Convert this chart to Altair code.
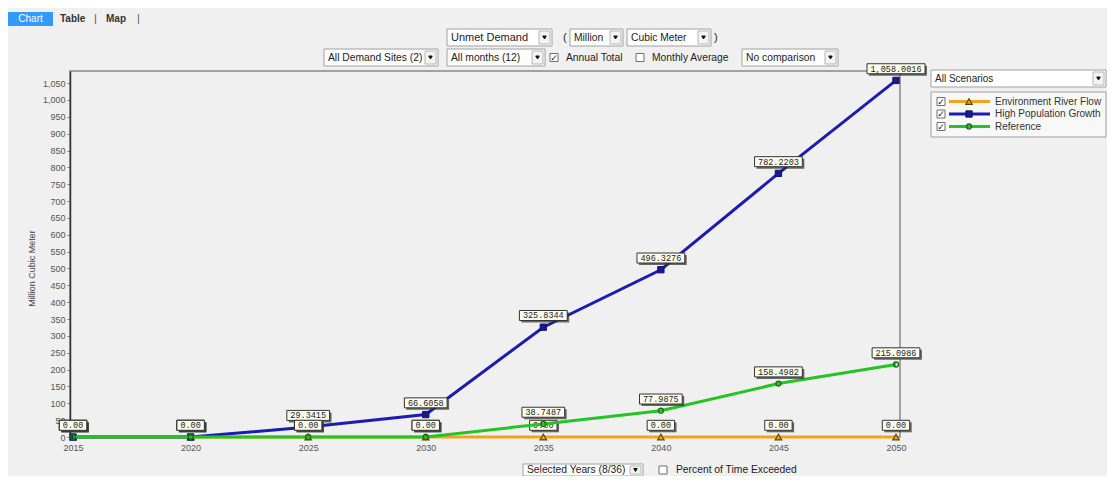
import altair as alt
import pandas as pd

# ---------------- data ----------------
years = [2015, 2020, 2025, 2030, 2035, 2040, 2045, 2050]
series_names = ["Environment River Flow", "High Population Growth", "Reference"]
env_flow = [0.0, 0.0, 0.0, 0.0, 0.0, 0.0, 0.0, 0.0]
high_pop = [0.0, 0.0, 29.3415, 66.6058, 325.8344, 496.3276, 782.2203, 1058.0016]
reference = [0.0, 0.0, 0.0, 0.0, 38.7487, 77.9875, 158.4982, 215.0986]
y_ticks = list(range(0, 1051, 50))

series_values = {
    "Environment River Flow": env_flow,
    "High Population Growth": high_pop,
    "Reference": reference,
}
line_colors = {
    "Environment River Flow": "#f4a21c",
    "High Population Growth": "#1c1cb4",
    "Reference": "#24c424",
}

def series_df(name):
    return pd.DataFrame({"year": years, "value": series_values[name], "series": name})

# ---------------- layout constants ----------------
OX, OY = 70, 71           # page position of plot origin
W, H = 830, 366
XDOM = [2014.87, 2050.17]
YDOM = [0, 1086]
PX_PER_YEAR = W / (XDOM[1] - XDOM[0])

xs = alt.Scale(domain=XDOM, nice=False, zero=False)
ys = alt.Scale(domain=YDOM, nice=False)

XAXIS = alt.Axis(
    values=years, format="d", title=None, labelFontSize=9, labelColor="#555",
    labelFont="Liberation Sans", tickSize=2, tickColor="#777", labelPadding=4,
    domain=False, grid=False)
YAXIS = alt.Axis(
    values=y_ticks, format=",.0f", title="Million Cubic Meter", labelFontSize=9,
    labelColor="#555", labelFont="Liberation Sans", tickSize=3, tickColor="#777",
    labelPadding=2, domainColor="#333", domainWidth=1.5, grid=False,
    titleFontSize=9, titleFont="Liberation Sans", titleColor="#444",
    titleFontWeight="normal", titleX=-39, titleY=197, titleAngle=270,
    titleAlign="center", titleBaseline="middle")

def X(field):
    return alt.X(field, scale=xs, axis=XAXIS, title=None)

def Y(field):
    return alt.Y(field, scale=ys, axis=YAXIS, title="Million Cubic Meter")

one = pd.DataFrame({"k": [0]})

def rect(x1, y1, x2, y2, fill, stroke="#9a9a9a", sw=1.0):
    kw = dict(fill=fill, strokeWidth=sw)
    if stroke:
        kw["stroke"] = stroke
    else:
        kw["strokeOpacity"] = 0
    return alt.Chart(one).mark_rect(**kw).encode(
        x=alt.value(x1 - OX), x2=alt.value(x2 - OX),
        y=alt.value(y1 - OY), y2=alt.value(y2 - OY))

def text(s, x, y, size=10, align="left", color="#222", font="Liberation Sans", weight=400):
    return alt.Chart(one).mark_text(text=s, align=align, baseline="middle", fontSize=size,
                                    font=font, color=color, fontWeight=weight).encode(
        x=alt.value(x - OX), y=alt.value(y - OY))

def point(x, y, shape, size, fill=None, stroke=None, filled=True, sw=1.0):
    kw = dict(shape=shape, size=size, filled=filled, strokeWidth=sw, opacity=1)
    if fill:
        kw["fill"] = fill
    if stroke:
        kw["stroke"] = stroke
    return alt.Chart(one).mark_point(**kw).encode(x=alt.value(x - OX), y=alt.value(y - OY))

def dropdown(x1, x2, y1, y2, label, size=10):
    cy = (y1 + y2) / 2
    return [
        rect(x1, y1, x2, y2, "#ffffff", "#a0a0a0"),
        rect(x2 - 13, y1 + 2, x2 - 2, y2 - 2, "#f3f3f3", "#b5b5b5"),
        point(x2 - 7.5, cy, "triangle-down", 12, fill="#111111", stroke="#111111"),
        text(label, x1 + 4, cy, size=size),
    ]

def checkbox(x, y, checked):
    out = [rect(x - 4, y - 4, x + 4, y + 4, "#ffffff", "#707070")]
    if checked:
        out.append(text("\u2713", x, y, size=9, align="center", font="DejaVu Sans",
                        weight=700, color="#222"))
    return out

# ---------------- plot layers ----------------
layers = []

def label_layers(name):
    d = series_df(name)
    b = alt.Chart(d).transform_calculate(
        lbl="datum.value == 0 ? '0.00' : format(datum.value, ',.4f')"
    ).transform_calculate(
        hw="(length(datum.lbl) * 5.1 + 7) / 2 / %f" % PX_PER_YEAR
    ).transform_calculate(
        x1="datum.year - datum.hw", x2="datum.year + datum.hw"
    )
    shadow = b.mark_rect(fill="#3a3a3a", opacity=0.75, xOffset=2, x2Offset=2,
                         yOffset=-14.7, y2Offset=-4.7).encode(
        x=X("x1:Q"), x2="x2:Q", y=Y("value:Q"), y2="value:Q")
    box = b.mark_rect(fill="#fdfdee", stroke="#333", strokeWidth=1,
                      yOffset=-16.7, y2Offset=-6.7).encode(
        x=X("x1:Q"), x2="x2:Q", y=Y("value:Q"), y2="value:Q")
    txt = b.mark_text(font="Liberation Mono", fontSize=8.5, color="#222", dy=-11.7,
                      baseline="middle", align="center").encode(
        x=X("year:Q"), y=Y("value:Q"), text="lbl:N")
    return [shadow, box, txt]

marker_style = {
    "Environment River Flow": dict(shape="triangle-up", size=42, filled=True,
                                   fill="#e9a227", stroke="#5e4800", strokeWidth=1.2),
    "High Population Growth": dict(shape="square", size=40, filled=True,
                                   fill="#1a1a8c", stroke="#12126e", strokeWidth=1),
    "Reference": dict(shape="circle", size=24, filled=False,
                      stroke="#176f17", strokeWidth=1.4),
}

# per series: line, markers, then value labels
for n in series_names:
    layers.append(alt.Chart(series_df(n)).mark_line(
        color=line_colors[n], strokeWidth=3).encode(x=X("year:Q"), y=Y("value:Q")))
    layers.append(alt.Chart(series_df(n)).mark_point(opacity=1, **marker_style[n]).encode(
        x=X("year:Q"), y=Y("value:Q")))
    layers += label_layers(n)

# ---------------- UI chrome ----------------
# tabs
layers.append(rect(8, 12, 53, 26, "#3399ff", None))
layers.append(text("Chart", 30.5, 19, size=10, align="center", color="#ffffff"))
layers.append(text("Table", 60, 18.5, size=10, color="#333", weight=600))
layers.append(text("|", 94, 18.5, size=11, color="#555"))
layers.append(text("Map", 106, 18.5, size=10, color="#333", weight=600))
layers.append(text("|", 137, 18.5, size=11, color="#555"))

# row 1
layers += dropdown(447, 552, 29, 46, "Unmet Demand", size=11)
layers.append(text("(", 563, 37.5, size=11))
layers += dropdown(570, 623, 29, 46, "Million", size=10.3)
layers += dropdown(627, 711, 29, 46, "Cubic Meter", size=10.3)
layers.append(text(")", 714, 37.5, size=11))

# row 2
layers += dropdown(324, 438, 49, 66, "All Demand Sites (2)", size=10.3)
layers += dropdown(447, 545, 49, 66, "All months (12)", size=10.3)
layers += checkbox(554, 57.5, True)
layers.append(text("Annual Total", 566, 57.5, size=10.3))
layers += checkbox(640, 57.5, False)
layers.append(text("Monthly Average", 652, 57.5, size=10.3))
layers += dropdown(742, 838, 49, 66, "No comparison", size=10.3)

# bottom
layers += dropdown(523, 643, 464, 476, "Selected Years (8/36)", size=10.3)
layers += checkbox(663, 470, False)
layers.append(text("Percent of Time Exceeded", 676, 470, size=10.3))

# legend
layers += dropdown(931, 1106, 70, 87, "All Scenarios", size=10)
layers.append(rect(931, 92, 1106, 137, "#f8f8f8", "#a0a0a0"))
legend_y = [101.5, 114, 126.5]
for i, n in enumerate(series_names):
    yy = legend_y[i]
    layers += checkbox(941, yy, True)
    layers.append(alt.Chart(one).mark_rule(color=line_colors[n], strokeWidth=3).encode(
        x=alt.value(949 - OX), x2=alt.value(990 - OX), y=alt.value(yy - OY)))
    ms = dict(marker_style[n])
    layers.append(point(969, yy, ms["shape"], ms["size"], fill=ms.get("fill"),
                        stroke=ms.get("stroke"), filled=ms["filled"], sw=ms["strokeWidth"]))
    layers.append(text(n, 995, yy, size=10, color="#333"))

chart = alt.layer(*layers).properties(
    width=W, height=H,
    padding={"left": 62, "top": 63, "right": 207, "bottom": 39},
    autosize=alt.AutoSizeParams(type="none"),
).configure(background="#f0f0f0").configure_view(
    stroke="#888", strokeWidth=1.5, fill="#f0f0f0")

chart.save("out.html", embed_options={"renderer": "svg", "actions": False})
